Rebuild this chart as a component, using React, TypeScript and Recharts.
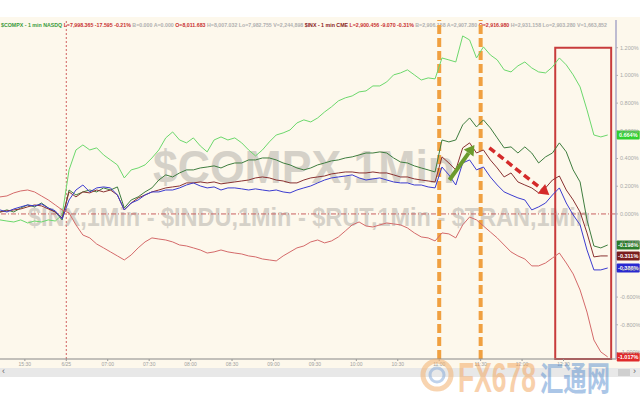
import React from "react";
import { LineChart, Line, XAxis, YAxis, ReferenceLine, ReferenceArea } from "recharts";

// minutes from the left edge of the chart (one sample every 5 min, day break at 48)
const minutes = [
  0, 5, 10, 15, 20, 25, 30, 35, 40, 45, 50, 55, 60, 65, 70, 75, 80, 85, 90, 95,
  100, 105, 110, 115, 120, 125, 130, 135, 140, 145, 150, 155, 160, 165, 170, 175, 180, 185, 190, 195,
  200, 205, 210, 215, 220, 225, 230, 235, 240, 245, 250, 255, 260, 265, 270, 275, 280, 285, 290, 295,
  300, 305, 310, 315, 320, 325, 330, 335, 340, 345, 350, 355, 360, 365, 370, 375, 380, 385, 390, 395,
  400, 405, 410, 415, 420, 425, 430, 435, 440,
];

// % change
const compx = [
  -0.043, -0.051, -0.058, -0.043, -0.065, -0.051, -0.058, -0.043, -0.051, -0.007,
  0.318, 0.462, 0.498, 0.462, 0.477, 0.426, 0.39, 0.354, 0.26, 0.318, 0.332, 0.354, 0.404, 0.462, 0.549, 0.592, 0.534, 0.513, 0.549, 0.491,
  0.448, 0.534, 0.556, 0.534, 0.549, 0.513, 0.462, 0.419, 0.462, 0.52, 0.57, 0.585, 0.606, 0.657, 0.679, 0.664, 0.693,
  0.736, 0.773, 0.816, 0.838, 0.852, 0.881, 0.888, 0.924, 0.924, 0.953, 1.004, 1.018, 1.04, 1.004, 0.967, 0.982, 0.975,
  1.126, 1.112, 1.097, 1.285, 1.256, 1.126, 1.206, 1.148, 1.112, 1.04, 1.025, 1.069, 1.097, 1.054, 1.025, 1.018, 1.061, 1.126, 1.076, 1.004,
  0.917, 0.751, 0.57, 0.556, 0.57,
];
const rut = [
  0.014, 0.029, 0.014, 0.043, 0.065, 0.051, 0.079, 0.043, 0.014, -0.043,
  0.173, 0.137, 0.159, 0.173, 0.159, 0.188, 0.173, 0.195, 0.043, 0.101, 0.123, 0.159, 0.188, 0.245, 0.282, 0.267, 0.296, 0.318, 0.318, 0.332,
  0.339, 0.347, 0.332, 0.354, 0.368, 0.368, 0.39, 0.39, 0.404, 0.404, 0.39, 0.368, 0.354, 0.332, 0.318, 0.332, 0.354,
  0.368, 0.383, 0.39, 0.404, 0.412, 0.426, 0.44, 0.44, 0.448, 0.44, 0.404, 0.375, 0.368, 0.347, 0.332, 0.318, 0.303,
  0.534, 0.52, 0.534, 0.643, 0.693, 0.628, 0.679, 0.621, 0.549, 0.477, 0.484, 0.44, 0.484, 0.44, 0.368, 0.412, 0.44, 0.513, 0.448, 0.318,
  0.231, -0.043, -0.231, -0.245, -0.224,
];
const indu = [
  0.014, 0.022, 0.029, 0.036, 0.051, 0.065, 0.058, 0.036, 0.014, -0.029,
  0.159, 0.123, 0.159, 0.152, 0.173, 0.159, 0.173, 0.137, 0.029, 0.079, 0.116, 0.137, 0.159, 0.173, 0.188, 0.195, 0.202, 0.224, 0.224, 0.231,
  0.224, 0.231, 0.217, 0.224, 0.231, 0.238, 0.245, 0.26, 0.267, 0.26, 0.245, 0.238, 0.224, 0.224, 0.245, 0.26, 0.267,
  0.274, 0.289, 0.296, 0.303, 0.303, 0.296, 0.296, 0.303, 0.296, 0.296, 0.282, 0.267, 0.267, 0.253, 0.245, 0.238, 0.231,
  0.412, 0.368, 0.318, 0.477, 0.513, 0.44, 0.462, 0.39, 0.332, 0.267, 0.296, 0.231, 0.209, 0.188, 0.152, 0.188, 0.245, 0.274, 0.173, 0.101,
  0.014, -0.137, -0.31, -0.303, -0.303,
];
const inx = [
  0.029, 0.014, 0.036, 0.051, 0.065, 0.058, 0.072, 0.043, 0.022, -0.036,
  0.101, 0.173, 0.209, 0.159, 0.188, 0.195, 0.188, 0.137, 0.029, 0.079, 0.101, 0.137, 0.159, 0.159, 0.173, 0.173, 0.188, 0.209, 0.224, 0.202,
  0.188, 0.195, 0.173, 0.188, 0.188, 0.181, 0.173, 0.181, 0.173, 0.166, 0.173, 0.159, 0.152, 0.173, 0.188, 0.202, 0.224,
  0.245, 0.26, 0.267, 0.274, 0.282, 0.26, 0.245, 0.253, 0.26, 0.245, 0.231, 0.224, 0.224, 0.209, 0.209, 0.195, 0.188,
  0.339, 0.282, 0.209, 0.368, 0.39, 0.318, 0.339, 0.267, 0.209, 0.159, 0.137, 0.116, 0.101, 0.029, 0.051, 0.079, 0.137, 0.188, 0.079, -0.007,
  -0.079, -0.26, -0.404, -0.404, -0.39,
];
const tran = [
  0.123, 0.13, 0.152, 0.166, 0.173, 0.159, 0.13, 0.101, 0.065, 0.029,
  0.007, -0.079, -0.152, -0.173, -0.217, -0.245, -0.274, -0.303, -0.332, -0.296, -0.245, -0.202, -0.173, -0.181, -0.188, -0.202, -0.224, -0.231, -0.245, -0.26,
  -0.282, -0.274, -0.26, -0.274, -0.282, -0.289, -0.303, -0.31, -0.325, -0.332, -0.339, -0.303, -0.274, -0.245, -0.231, -0.202, -0.188,
  -0.209, -0.195, -0.166, -0.123, -0.079, -0.058, -0.087, -0.094, -0.079, -0.065, -0.072, -0.079, -0.101, -0.137, -0.166, -0.173, -0.195,
  -0.137, -0.144, -0.173, -0.079, -0.022, -0.043, -0.087, -0.13, -0.173, -0.224, -0.274, -0.303, -0.325, -0.375, -0.375, -0.354, -0.318, -0.282, -0.354, -0.433,
  -0.549, -0.708, -0.91, -0.996, -1.032,
];

const endLabels = ["0.664%", "-0.198%", "-0.311%", "-0.386%", "-1.017%"];

const timeTicks = [18, 48, 78, 108, 138, 168, 198, 228, 258, 288, 318, 348, 378, 408];
const timeLabels = ["15:30", "6/25", "07:00", "07:30", "08:00", "08:30", "09:00", "09:30", "10:00", "10:30", "11:00", "11:30", "12:00", "12:30"];
const pctTicks = [-1.0, -0.8, -0.6, -0.4, -0.2, 0, 0.2, 0.4, 0.6, 0.8, 1.0, 1.2];

const data = minutes.map((t, i) => ({
  t,
  compx: compx[i],
  rut: rut[i],
  indu: indu[i],
  inx: inx[i],
  tran: tran[i],
}));

const series = [
  { key: "compx", color: "#6cd86c", tag: "#30d030", label: endLabels[0] },
  { key: "rut", color: "#3f7d3f", tag: "#2b7d2b", label: endLabels[1] },
  { key: "indu", color: "#8a3232", tag: "#7a1e1e", label: endLabels[2] },
  { key: "inx", color: "#3c3cd0", tag: "#2828d0", label: endLabels[3] },
  { key: "tran", color: "#d46a6a", tag: "#e02a2a", label: endLabels[4] },
];

const font = "Arial, 'Liberation Sans', sans-serif";

const endTag = (bg: string, text: string) => (p: any) => {
  if (p.index !== data.length - 1) return <g key={p.index} />;
  return (
    <g key={p.index}>
      <rect x={p.cx + 9} y={p.cy - 4.5} width={23} height={9} fill={bg} rx={1} />
      <text x={p.cx + 20.5} y={p.cy + 2} textAnchor="middle" fontSize={5.5} fontWeight="bold" fill="#fff" fontFamily={font}>
        {text}
      </text>
    </g>
  );
};

const arrow = (color: string, width: number, dash?: string) => (p: any) => {
  const { x1, y1, x2, y2 } = p;
  const a = Math.atan2(y2 - y1, x2 - x1);
  const len = 10;
  const bx = x2 - len * Math.cos(a);
  const by = y2 - len * Math.sin(a);
  const nx = -Math.sin(a) * 6;
  const ny = Math.cos(a) * 6;
  return (
    <g>
      <line x1={x1} y1={y1} x2={bx} y2={by} stroke={color} strokeWidth={width} strokeDasharray={dash} />
      <polygon points={`${x2},${y2} ${bx + nx},${by + ny} ${bx - nx},${by - ny}`} fill={color} />
    </g>
  );
};

const headerParts = [
  { text: "$COMPX - 1 min NASDQ ", color: "#3a9a3a" },
  { text: "L=7,998.365 -17.595 -0.21% ", color: "#c83030" },
  { text: "B=0.000 A=0.000 ", color: "#b0b0b0" },
  { text: "O=8,011.683 ", color: "#c83030" },
  { text: "H=8,007.032 Lo=7,982.755 V=2,244,898 ", color: "#b0b0b0" },
  { text: "$INX - 1 min CME ", color: "#8a2020" },
  { text: "L=2,900.456 -9.070 -0.31% ", color: "#c83030" },
  { text: "B=2,906.158 A=2,907.280 ", color: "#b0b0b0" },
  { text: "O=2,916.980 ", color: "#c83030" },
  { text: "H=2,931.158 Lo=2,903.280 V=1,663,852", color: "#b0b0b0" },
];

export default function App() {
  return (
    <div style={{ position: "absolute", left: 0, top: 0, width: 640, height: 400, background: "#fff", overflow: "hidden" }}>
      <div style={{ position: "absolute", left: 0, top: 17, width: 640, height: 351, background: "#fdf8ec" }} />
      <svg width={640} height={400} style={{ position: "absolute", left: 0, top: 0 }}>
        <text x={153} y={183} fontSize={46} fontWeight="bold" fill="#d5d1c8" textLength={302} lengthAdjust="spacingAndGlyphs" fontFamily={font}>
          $COMPX,1Min
        </text>
        <text x={28} y={226} fontSize={26} fontWeight="bold" fill="#d5d1c8" textLength={562} lengthAdjust="spacingAndGlyphs" fontFamily={font}>
          $INX,1Min - $INDU,1Min - $RUT,1Min - $TRAN,1Min
        </text>
        <text x={1} y={27} fontSize={5.8} fontWeight="bold" textLength={606} lengthAdjust="spacingAndGlyphs" fontFamily={font}>
          {headerParts.map((h, i) => (
            <tspan key={i} fill={h.color}>
              {h.text}
            </tspan>
          ))}
        </text>
      </svg>
      <div style={{ position: "absolute", left: 0, top: 0 }}>
        <LineChart width={640} height={368} data={data} margin={{ top: 20, right: 0, left: 0, bottom: 0 }}>
          <XAxis
            dataKey="t"
            type="number"
            domain={[0, 446]}
            ticks={timeTicks}
            tickFormatter={(v: number) => timeLabels[timeTicks.indexOf(v)]}
            height={9}
            tickSize={2}
            tickMargin={1}
            tick={{ fontSize: 5, fill: "#a0a0a0", fontFamily: font }}
            axisLine={{ stroke: "#888" }}
            tickLine={{ stroke: "#999" }}
          />
          <YAxis
            orientation="right"
            type="number"
            domain={[-1.047, 1.4]}
            ticks={pctTicks}
            tickFormatter={(v: number) => v.toFixed(3) + "%"}
            width={24}
            tickSize={2}
            tickMargin={2}
            tick={{ fontSize: 5.5, fill: "#a8a8a8", fontFamily: font, textAnchor: "start" }}
            axisLine={{ stroke: "#a8a8c8", strokeWidth: 1.5 }}
            tickLine={{ stroke: "#b0b0b0" }}
          />
          <ReferenceLine y={0} stroke="#c86060" strokeDasharray="5 2 1 2" strokeWidth={1} />
          <ReferenceLine x={48} stroke="#d06060" strokeDasharray="2 2" strokeWidth={1} />
          <ReferenceLine x={318} stroke="#f0a040" strokeDasharray="9 4" strokeWidth={4} />
          <ReferenceLine x={348} stroke="#f0a040" strokeDasharray="9 4" strokeWidth={4} />
          <ReferenceArea x1={402} x2={442.5} y1={-1.047} y2={1.199} fill="none" stroke="#c83c3c" strokeWidth={2} />
          {series.map((s) => (
            <Line
              key={s.key}
              dataKey={s.key}
              type="linear"
              stroke={s.color}
              strokeWidth={1}
              dot={endTag(s.tag, s.label)}
              activeDot={false}
              isAnimationActive={false}
            />
          ))}
          <ReferenceLine
            segment={[{ x: 325.4, y: 0.245 }, { x: 343.5, y: 0.498 }]}
            shape={arrow("#6b9a2c", 4)}
          />
          <ReferenceLine
            segment={[{ x: 354.3, y: 0.477 }, { x: 397.7, y: 0.137 }]}
            shape={arrow("#d42a2a", 3.5, "7 4")}
          />
        </LineChart>
      </div>
      <div style={{ position: "absolute", left: 0, top: 368, width: 640, height: 9, background: "#e8e8e8" }}>
        <span style={{ position: "absolute", left: 2, top: -2, fontSize: 9, color: "#666", fontFamily: font }}>‹</span>
        <div style={{ position: "absolute", left: 618, top: 1, width: 12, height: 7, background: "#cfcfcf" }} />
        <span style={{ position: "absolute", left: 633, top: -2, fontSize: 9, color: "#666", fontFamily: font }}>›</span>
      </div>
      <svg width={640} height={400} style={{ position: "absolute", left: 0, top: 0, pointerEvents: "none" }}>
        <circle cx={437} cy={375} r={14} fill="none" stroke="#f2b070" strokeWidth={5} opacity={0.55} />
        <circle cx={437} cy={375} r={7} fill="none" stroke="#7fa6d8" strokeWidth={3} opacity={0.5} />
        <text x={458} y={392} fontSize={42} fontWeight="bold" fill="#f3a35a" opacity={0.5} textLength={78} lengthAdjust="spacingAndGlyphs" fontFamily={font}>
          FX678
        </text>
        <text x={540} y={391} fontSize={34} fontWeight="bold" fill="#5a8fd0" opacity={0.5} textLength={70} lengthAdjust="spacingAndGlyphs" fontFamily="'Noto Sans CJK SC', sans-serif">
          汇通网
        </text>
      </svg>
    </div>
  );
}
